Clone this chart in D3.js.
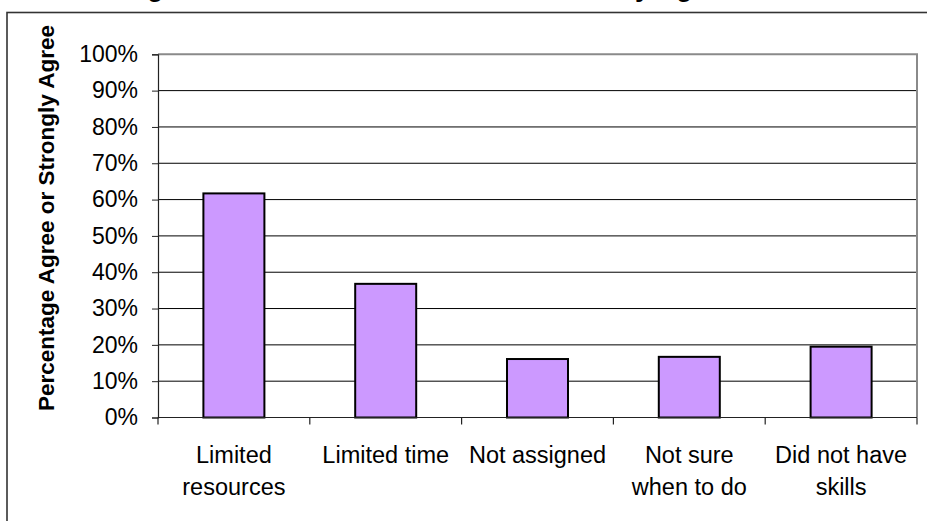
<!DOCTYPE html>
<html>
<head>
<meta charset="utf-8">
<script src="https://cdn.jsdelivr.net/npm/d3@7"></script>
<style>
  html, body { margin: 0; padding: 0; background: #fff; }
  svg { display: block; font-family: "Liberation Sans", Arial, sans-serif; }
</style>
</head>
<body>
<svg id="chart" width="927" height="521"></svg>
<script>
// Survey categories (each label may span two lines)
const categories = [
  ["Limited", "resources"],
  ["Limited time"],
  ["Not assigned"],
  ["Not sure", "when to do"],
  ["Did not have", "skills"]
];
// Percentage who agree or strongly agree
const values = [61.7, 36.8, 16.1, 16.7, 19.5];
// Y axis ticks (percent)
const yTicks = [0, 10, 20, 30, 40, 50, 60, 70, 80, 90, 100];
const chartTitle = "Figure 3. Reasons Not to Use the Activity Again";
const yTitle = "Percentage Agree or Strongly Agree";

const svg = d3.select("#chart");
const plot = { left: 158, right: 917, top: 54.3, bottom: 417.5 };

const x = d3.scaleBand()
  .domain(d3.range(categories.length))
  .range([plot.left, plot.right])
  .paddingInner(0).paddingOuter(0);

const y = d3.scaleLinear().domain([0, 100]).range([plot.bottom, plot.top]);

// Title (sits above the top edge of the frame)
svg.append("text")
  .attr("x", 123).attr("y", -3.6)
  .attr("font-size", 27).attr("font-weight", "bold")
  .text(chartTitle);

// Outer chart frame
svg.append("rect")
  .attr("x", 7).attr("y", 12.5)
  .attr("width", 940).attr("height", 540)
  .attr("fill", "none").attr("stroke", "#333").attr("stroke-width", 1.6);

// Horizontal gridlines
svg.append("g").selectAll("line")
  .data(yTicks.filter(d => d > 0 && d < 100))
  .join("line")
  .attr("x1", plot.left).attr("x2", plot.right)
  .attr("y1", d => y(d)).attr("y2", d => y(d))
  .attr("stroke", "#000").attr("stroke-width", 1);

// Plot border (top and right)
svg.append("path")
  .attr("d", `M${plot.left},${y(100)}H${plot.right}V${plot.bottom}`)
  .attr("fill", "none").attr("stroke", "#8a8a8a").attr("stroke-width", 2);

// Bars
svg.append("g").selectAll("rect")
  .data(values)
  .join("rect")
  .attr("x", (d, i) => x(i) + x.bandwidth() / 2 - 30.5)
  .attr("width", 61)
  .attr("y", d => y(d))
  .attr("height", d => y(0) - y(d))
  .attr("fill", "#CC99FF")
  .attr("stroke", "#000").attr("stroke-width", 2);

// Y axis
const yAxis = d3.axisLeft(y)
  .tickValues(yTicks)
  .tickSize(6)
  .tickPadding(14)
  .tickFormat(d => d + "%");
const gy = svg.append("g")
  .attr("transform", `translate(${plot.left},0)`)
  .call(yAxis);
gy.select(".domain").attr("stroke", "#222").attr("stroke-width", 1.2);
gy.selectAll(".tick line").attr("stroke", "#222");
gy.selectAll(".tick text")
  .attr("font-size", 23)
  .attr("font-family", "Liberation Sans, Arial, sans-serif")
  .attr("fill", "#000");

// X axis: ticks at category boundaries
const gx = svg.append("g");
gx.append("line")
  .attr("x1", plot.left).attr("x2", plot.right)
  .attr("y1", plot.bottom).attr("y2", plot.bottom)
  .attr("stroke", "#222").attr("stroke-width", 1.2);
gx.selectAll("line.tick")
  .data(d3.range(categories.length + 1))
  .join("line")
  .attr("class", "tick")
  .attr("x1", i => i < categories.length ? x(i) : plot.right)
  .attr("x2", i => i < categories.length ? x(i) : plot.right)
  .attr("y1", plot.bottom).attr("y2", plot.bottom + 7)
  .attr("stroke", "#222").attr("stroke-width", 1.2);

// Category labels
const labels = svg.append("g").selectAll("text")
  .data(categories)
  .join("text")
  .attr("text-anchor", "middle")
  .attr("font-size", 23.5)
  .attr("fill", "#000");
labels.selectAll("tspan")
  .data((d, i) => d.map(t => ({ t, i })))
  .join("tspan")
  .attr("x", d => x(d.i) + x.bandwidth() / 2)
  .attr("y", (d, j) => 463 + j * 32)
  .text(d => d.t);

// Y axis title
svg.append("text")
  .attr("transform", "translate(54,218) rotate(-90)")
  .attr("text-anchor", "middle")
  .attr("font-size", 22.5)
  .attr("font-weight", "bold")
  .text(yTitle);
</script>
</body>
</html>
